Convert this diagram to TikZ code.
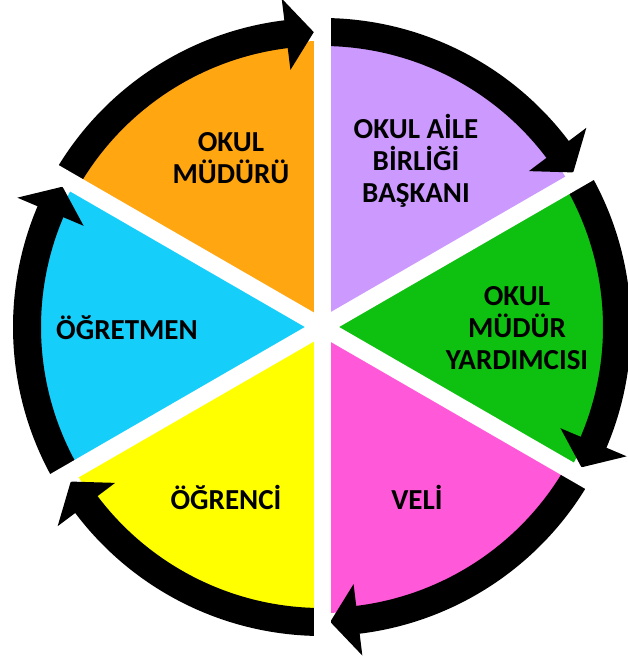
\documentclass[tikz,border=0pt]{standalone}
\usepackage{fontspec}
\setmainfont{Carlito}
\usetikzlibrary{positioning}
\definecolor{orOk}{RGB}{255,166,17}
\definecolor{liOk}{RGB}{204,153,255}
\definecolor{grOk}{RGB}{14,193,16}
\definecolor{pkOk}{RGB}{255,88,216}
\definecolor{yeOk}{RGB}{255,255,0}
\definecolor{cyOk}{RGB}{22,206,250}
\begin{document}
\begin{tikzpicture}[
  x=1pt, y=1pt,
  lbl/.style = {font=\bfseries\fontsize{29}{32}\selectfont, align=center, inner sep=0pt},
  arw/.style = {fill=black},
  gap/.style = {draw=white, line width=17pt},
]
\useasboundingbox (-322,-339) rectangle (306,327);
% wedges (counter-clockwise from the start angle)
\foreach \a/\c in {90/orOk, 30/liOk, -30/grOk, -90/pkOk, -150/yeOk, 150/cyOk}{%
  \fill[\c] (0,0) -- (\a:286) arc[start angle=\a, end angle=\a+60, radius=286] -- cycle;
}
% clockwise arrows round the ring: tail at a+60, head base at a+7, tip at a+1.6
\foreach \a [evaluate=\a as \s using \a+60, evaluate=\a as \b using \a+7, evaluate=\a as \t using \a+1.6] in {90,30,-30,-90,-150,150}{%
  \fill[arw] (\s:309) arc[start angle=\s, end angle=\b, radius=309] -- (\b:331) -- (\t:295)
    -- (\b:259) -- (\b:281) arc[start angle=\b, end angle=\s, radius=281] -- cycle;
}
% white spokes between the wedges
\foreach \a in {90,30,-30,-90,-150,150}
  \draw[gap] (0,0) -- (\a:350);
\node[lbl] (mudur)   at (-91,169)  {OKUL\\MÜDÜRÜ};
\node[lbl] (aile)    at (94,166)   {OKUL AİLE\\BİRLİĞİ\\BAŞKANI};
\node[lbl] (yard)    at (195,-1)   {OKUL\\MÜDÜR\\YARDIMCISI};
\node[lbl] (veli)    at (95,-170)  {VELİ};
\node[lbl] (ogrenci) at (-96,-170) {ÖĞRENCİ};
\node[lbl] (ogrtmn)  at (-195,-1)  {ÖĞRETMEN};
\end{tikzpicture}
\end{document}
